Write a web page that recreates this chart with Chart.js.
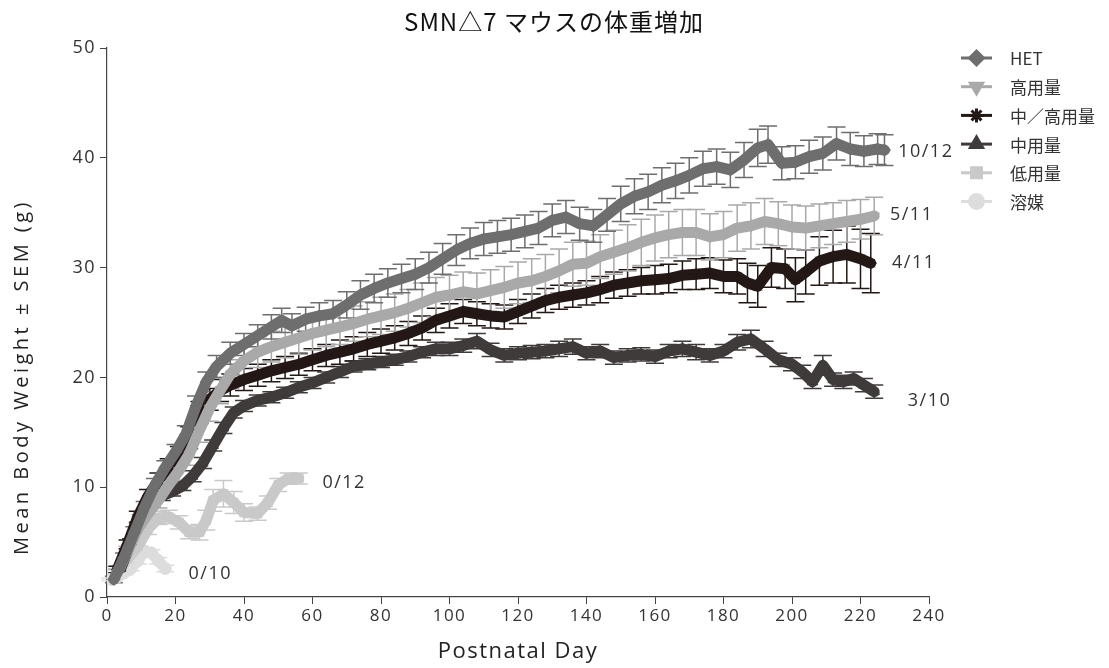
<!DOCTYPE html>
<html>
<head>
<meta charset="utf-8">
<script src="https://cdn.jsdelivr.net/npm/chart.js@4"></script>
<style>
  html, body { margin: 0; padding: 0; background: #fff; }
  #wrap { width: 1109px; height: 668px; position: relative; }
</style>
</head>
<body>
<div id="wrap"><canvas id="bw"></canvas></div>
<script>
// SMNΔ7 body weight curves (mean ± SEM)

const seriesNames = ["HET", "高用量", "中／高用量", "中用量", "低用量", "溶媒"];

const hetDays = [2, 5, 8, 11, 14, 17, 20, 23, 26, 29, 32, 36, 40, 44, 48, 51, 54, 58, 62, 66, 70, 74, 78, 82, 86, 90, 94, 98, 102, 106, 110, 114, 118, 122, 126, 130, 134, 138, 142, 146, 150, 154, 158, 162, 166, 170, 174, 178, 182, 186, 190, 193, 197, 201, 205, 209, 213, 217, 221, 225, 227];
const hetWeight = [1.6, 3.6, 5.9, 8.2, 10.2, 11.8, 13.2, 14.8, 17.4, 19.6, 21.0, 22.2, 23.0, 23.8, 24.6, 25.2, 24.7, 25.3, 25.6, 25.8, 26.6, 27.5, 28.1, 28.6, 29.0, 29.4, 30.0, 30.8, 31.6, 32.2, 32.6, 32.8, 33.0, 33.3, 33.6, 34.3, 34.6, 34.0, 33.8, 34.8, 35.8, 36.5, 36.9, 37.5, 37.9, 38.4, 39.0, 39.2, 38.9, 39.8, 40.9, 41.2, 39.5, 39.6, 40.1, 40.4, 41.3, 40.8, 40.6, 40.8, 40.7];
const hetSem = [0.3, 0.4, 0.5, 0.5, 0.6, 0.6, 0.7, 0.8, 0.9, 0.9, 1.0, 1.0, 1.0, 1.0, 1.1, 1.1, 1.1, 1.1, 1.2, 1.2, 1.2, 1.3, 1.3, 1.3, 1.3, 1.4, 1.4, 1.4, 1.4, 1.4, 1.5, 1.5, 1.5, 1.5, 1.5, 1.5, 1.5, 1.5, 1.5, 1.5, 1.6, 1.6, 1.6, 1.6, 1.6, 1.6, 1.6, 1.6, 1.6, 1.6, 1.7, 1.7, 1.5, 1.5, 1.5, 1.5, 1.5, 1.5, 1.4, 1.4, 1.4];

const highDays = [3, 6, 9, 12, 15, 18, 21, 24, 27, 30, 33, 36, 40, 44, 48, 52, 56, 60, 64, 68, 72, 76, 80, 84, 88, 92, 96, 100, 104, 108, 112, 116, 120, 124, 128, 132, 136, 140, 144, 148, 152, 156, 160, 164, 168, 172, 176, 180, 184, 188, 192, 196, 200, 204, 208, 212, 216, 220, 224];
const highWeight = [2.2, 4.2, 6.2, 7.6, 8.8, 10.2, 11.5, 13.0, 15.2, 17.2, 18.8, 20.3, 21.5, 22.3, 22.8, 23.2, 23.6, 24.0, 24.3, 24.6, 24.9, 25.3, 25.6, 25.9, 26.3, 26.8, 27.3, 27.5, 27.8, 27.6, 27.9, 28.2, 28.6, 28.8, 29.2, 29.7, 30.3, 30.4, 31.0, 31.4, 31.8, 32.3, 32.7, 33.0, 33.2, 33.2, 32.8, 33.0, 33.6, 33.8, 34.2, 34.0, 33.7, 33.6, 33.8, 34.0, 34.2, 34.4, 34.7];
const highSem = [0.3, 0.4, 0.5, 0.6, 0.7, 0.8, 0.9, 1.0, 1.1, 1.2, 1.2, 1.3, 1.3, 1.4, 1.4, 1.4, 1.5, 1.5, 1.5, 1.6, 1.6, 1.6, 1.7, 1.7, 1.7, 1.8, 1.8, 1.8, 1.8, 1.9, 1.9, 1.9, 1.9, 2.0, 2.0, 2.0, 2.0, 2.0, 2.0, 2.0, 2.1, 2.1, 2.1, 2.1, 2.1, 2.1, 2.1, 2.1, 2.1, 2.1, 2.1, 2.0, 2.0, 2.0, 2.0, 1.9, 1.9, 1.8, 1.7];

const midHighDays = [3, 6, 9, 12, 15, 18, 21, 24, 27, 30, 33, 36, 40, 44, 48, 52, 56, 60, 64, 68, 72, 76, 80, 84, 88, 92, 96, 100, 104, 108, 112, 116, 120, 124, 128, 132, 136, 140, 144, 148, 152, 156, 160, 164, 168, 172, 176, 180, 184, 187, 190, 194, 198, 201, 204, 208, 212, 216, 220, 223];
const midHighWeight = [2.5, 4.8, 7.3, 9.2, 10.6, 11.8, 12.8, 14.5, 16.8, 18.0, 18.8, 19.3, 19.8, 20.2, 20.6, 20.9, 21.2, 21.6, 22.0, 22.3, 22.6, 23.0, 23.3, 23.6, 24.0, 24.5, 25.2, 25.6, 26.0, 25.8, 25.6, 25.5, 26.0, 26.5, 27.0, 27.3, 27.5, 27.7, 28.0, 28.4, 28.6, 28.8, 28.9, 29.0, 29.3, 29.4, 29.5, 29.2, 29.2, 28.6, 28.3, 30.0, 29.9, 28.9, 29.6, 30.6, 31.0, 31.2, 30.8, 30.4];
const midHighSem = [0.3, 0.4, 0.5, 0.6, 0.7, 0.8, 0.9, 1.0, 1.0, 1.0, 1.0, 1.0, 1.0, 1.0, 1.0, 1.0, 1.0, 1.0, 1.0, 1.1, 1.1, 1.1, 1.1, 1.1, 1.1, 1.1, 1.1, 1.1, 1.1, 1.1, 1.1, 1.1, 1.1, 1.1, 1.1, 1.1, 1.1, 1.1, 1.2, 1.2, 1.2, 1.2, 1.3, 1.3, 1.3, 1.4, 1.4, 1.5, 1.6, 1.8, 1.9, 1.8, 1.8, 2.0, 2.0, 2.2, 2.4, 2.6, 2.7, 2.7];

const midDays = [4, 7, 10, 13, 16, 19, 22, 25, 28, 31, 34, 37, 40, 44, 48, 52, 56, 60, 64, 68, 72, 76, 80, 84, 88, 92, 96, 100, 104, 108, 112, 116, 120, 124, 128, 132, 136, 140, 144, 148, 152, 156, 160, 164, 168, 172, 176, 180, 184, 188, 192, 196, 200, 203, 206, 209, 212, 215, 218, 221, 224];
const midWeight = [2.6, 5.0, 7.2, 8.6, 9.2, 9.6, 10.1, 11.0, 12.2, 13.8, 15.4, 16.8, 17.4, 17.9, 18.2, 18.6, 19.1, 19.5, 20.0, 20.5, 21.0, 21.2, 21.4, 21.6, 21.9, 22.3, 22.6, 22.6, 22.9, 23.3, 22.5, 22.0, 22.2, 22.3, 22.4, 22.6, 22.8, 22.2, 22.4, 21.8, 22.0, 22.1, 21.9, 22.4, 22.6, 22.3, 22.0, 22.4, 23.2, 23.5, 22.6, 21.6, 21.2, 20.5, 19.6, 21.1, 19.8, 19.6, 19.9, 19.3, 18.7];
const midSem = [0.2, 0.3, 0.3, 0.4, 0.4, 0.4, 0.4, 0.5, 0.5, 0.5, 0.5, 0.5, 0.5, 0.5, 0.5, 0.5, 0.5, 0.5, 0.5, 0.5, 0.5, 0.5, 0.5, 0.5, 0.5, 0.5, 0.6, 0.6, 0.6, 0.7, 0.6, 0.6, 0.6, 0.6, 0.6, 0.7, 0.7, 0.6, 0.6, 0.6, 0.6, 0.6, 0.6, 0.6, 0.7, 0.7, 0.6, 0.6, 0.7, 0.8, 0.7, 0.6, 0.6, 0.6, 0.6, 0.9, 0.6, 0.6, 0.6, 0.6, 0.6];

const lowDays = [3, 6, 9, 12, 15, 18, 21, 24, 27, 29, 31, 34, 37, 40, 44, 47, 50, 53, 56];
const lowWeight = [2.4, 3.5, 4.6, 6.2, 7.2, 7.3, 6.8, 5.9, 5.9, 7.0, 8.8, 9.4, 8.6, 7.7, 7.6, 8.6, 10.2, 10.8, 10.8];
const lowSem = [0.2, 0.3, 0.4, 0.5, 0.6, 0.6, 0.6, 0.6, 0.7, 0.9, 1.0, 1.2, 1.0, 0.8, 0.6, 0.6, 0.6, 0.5, 0.5];

const vehDays = [1, 3, 5, 7, 9, 11, 13, 15, 17];
const vehWeight = [1.6, 1.8, 2.2, 2.6, 3.3, 4.2, 4.0, 3.3, 2.6];
const vehSem = [0.1, 0.1, 0.2, 0.2, 0.3, 0.3, 0.3, 0.3, 0.3];

// survivors at end of study, shown next to each curve
const endTexts = ["10/12", "5/11", "4/11", "3/10", "0/12", "0/10"];
const endTextDay = [231, 228.6, 229.2, 233.8, 62.9, 23.8];
const endTextWeight = [40.5, 34.8, 30.4, 17.9, 10.4, 2.1];

const xTicks = [0, 20, 40, 60, 80, 100, 120, 140, 160, 180, 200, 220, 240];
const yTicks = [0, 10, 20, 30, 40, 50];

const colors = ["#6e6e6e", "#a9a9a9", "#231815", "#3f3b3a", "#c9c9c9", "#dddddd"];
const markers = [
  { style: "rectRot", rot: 0 },
  { style: "triangle", rot: 180 },
  { style: "star", rot: 0 },
  { style: "triangle", rot: 0 },
  { style: "rect", rot: 0 },
  { style: "circle", rot: 0 },
];

function pts(days, w) {
  return days.map((d, i) => ({ x: d, y: w[i] }));
}

const allDays = [hetDays, highDays, midHighDays, midDays, lowDays, vehDays];
const allWeight = [hetWeight, highWeight, midHighWeight, midWeight, lowWeight, vehWeight];
const allSem = [hetSem, highSem, midHighSem, midSem, lowSem, vehSem];

const FONT = "'Open Sans', 'Noto Sans CJK JP', sans-serif";
const JP = "'Noto Sans CJK JP', sans-serif";

// wide letter spacing like the original figure, for all chart text
const spacingPlugin = {
  id: "spacing",
  beforeDraw(chart) { chart.ctx.letterSpacing = "1.5px"; },
};

// error bars behind the lines
const errorBarsPlugin = {
  id: "errorBars",
  beforeDatasetsDraw(chart) {
    const { ctx } = chart;
    const xs = chart.scales.x, ys = chart.scales.y;
    ctx.save();
    for (let di = chart.data.datasets.length - 1; di >= 0; di--) {
      const ds = chart.data.datasets[di];
      const sem = ds.sem || [];
      ctx.strokeStyle = ds.borderColor;
      ds.data.forEach((p, i) => {
        const s = sem[i];
        if (!s) return;
        const x = xs.getPixelForValue(p.x);
        const yt = ys.getPixelForValue(p.y + s);
        const yb = ys.getPixelForValue(p.y - s);
        ctx.lineWidth = 1.5;
        ctx.beginPath();
        ctx.moveTo(x, yt); ctx.lineTo(x, yb);
        ctx.moveTo(x - 9, yt); ctx.lineTo(x + 9, yt);
        ctx.moveTo(x - 9, yb); ctx.lineTo(x + 9, yb);
        ctx.stroke();
      });
    }
    ctx.restore();
  },
};

// title, y-axis title, end-of-curve counts and legend
const decorPlugin = {
  id: "decor",
  afterDraw(chart) {
    const { ctx } = chart;
    const xs = chart.scales.x, ys = chart.scales.y;
    ctx.save();

    ctx.fillStyle = "#111";
    ctx.letterSpacing = "1px";
    ctx.font = "24px " + JP;
    ctx.textAlign = "center";
    ctx.textBaseline = "middle";
    ctx.fillText("SMN\u25B37 マウスの体重増加", 554, 22);

    // y-axis title sits a little below the axis centre in the original
    ctx.save();
    ctx.translate(22, 377);
    ctx.rotate(-Math.PI / 2);
    ctx.fillStyle = "#222";
    ctx.letterSpacing = "3.5px";
    ctx.font = "20px " + FONT;
    ctx.fillText("Mean Body Weight ± SEM (g)", 0, 0);
    ctx.restore();

    ctx.fillStyle = "#333";
    ctx.letterSpacing = "1.5px";
    ctx.font = "18px " + FONT;
    ctx.textAlign = "left";
    endTexts.forEach((t, i) => {
      ctx.fillText(t, xs.getPixelForValue(endTextDay[i]), ys.getPixelForValue(endTextWeight[i]));
    });

    ctx.letterSpacing = "0px";
    chart.data.datasets.forEach((ds, i) => {
      const y = 58 + i * 28.7;
      ctx.strokeStyle = ds.borderColor;
      ctx.lineWidth = 3;
      ctx.beginPath();
      ctx.moveTo(961, y); ctx.lineTo(992, y);
      ctx.stroke();
      ctx.fillStyle = ds.borderColor;
      Chart.helpers.drawPoint(ctx, {
        pointStyle: markers[i].style, radius: 7, rotation: markers[i].rot, borderWidth: 2,
      }, 976.5, y);
      ctx.fillStyle = "#333";
      ctx.font = "17px " + JP;
      ctx.fillText(ds.label, 1010, y + 1);
    });
    ctx.restore();
  },
};

const datasets = seriesNames.map((name, i) => ({
  label: name,
  data: pts(allDays[i], allWeight[i]),
  sem: allSem[i],
  borderColor: colors[i],
  backgroundColor: colors[i],
  borderWidth: 11,
  borderJoinStyle: "round",
  borderCapStyle: "round",
  tension: 0,
  pointStyle: markers[i].style,
  pointRotation: markers[i].rot,
  pointRadius: 6,
  pointBorderWidth: 1,
  pointBorderColor: colors[i],
  pointBackgroundColor: colors[i],
}));

new Chart(document.getElementById("bw"), {
  type: "line",
  data: { datasets },
  plugins: [spacingPlugin, errorBarsPlugin, decorPlugin],
  options: {
    responsive: true,
    maintainAspectRatio: false,
    animation: false,
    layout: { padding: { left: 8, right: 180, top: 48, bottom: 0 } },
    plugins: { legend: { display: false }, tooltip: { enabled: false } },
    scales: {
      x: {
        type: "linear",
        min: 0,
        max: 240,
        afterBuildTicks: (s) => { s.ticks = xTicks.map((v) => ({ value: v })); },
        afterFit: (s) => { s.height = 71; },
        ticks: { color: "#333", font: { family: FONT, size: 17 }, padding: 2 },
        grid: { drawOnChartArea: false, drawTicks: true, tickLength: 7, color: "#444" },
        border: { color: "#444", width: 1.2 },
        title: {
          display: true, text: "Postnatal Day", color: "#222",
          font: { family: FONT, size: 22 }, padding: { top: 0, bottom: 3 },
        },
      },
      y: {
        min: 0,
        max: 50,
        afterBuildTicks: (s) => { s.ticks = yTicks.map((v) => ({ value: v })); },
        afterFit: (s) => { s.width = 99; },
        ticks: { color: "#333", font: { family: FONT, size: 18 }, padding: 4 },
        grid: { drawOnChartArea: false, drawTicks: true, tickLength: 7, color: "#444" },
        border: { color: "#444", width: 1.2 },
        title: { display: false },
      },
    },
  },
});
</script>
</body>
</html>
